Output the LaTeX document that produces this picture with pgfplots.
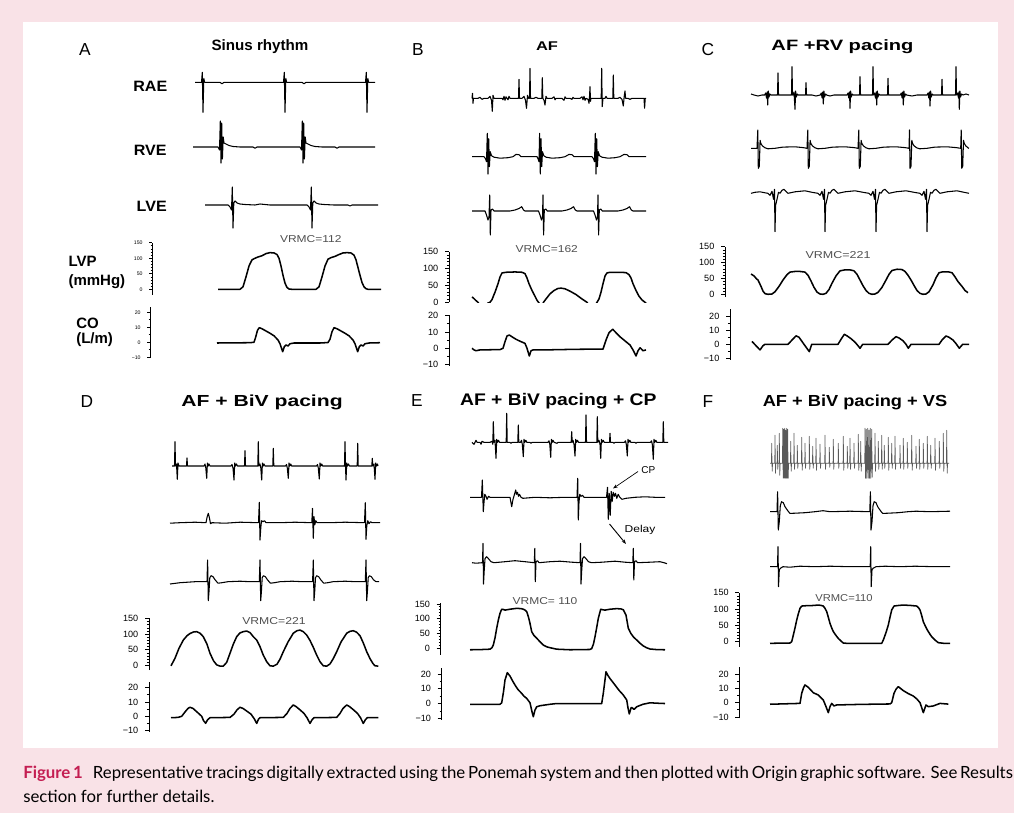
\documentclass[border=0pt]{standalone}
\usepackage{pgfplots}
\pgfplotsset{compat=1.18}
\usepackage{graphicx}
\usepackage{fontspec}
\setmainfont{Liberation Sans}
\newfontfamily\capfont{Lato}
\usetikzlibrary{arrows.meta}
\definecolor{bgpink}{RGB}{249,226,231}
\definecolor{figred}{RGB}{196,30,82}
\definecolor{vrgray}{RGB}{80,80,80}
\pgfplotsset{
  eg/.style={hide axis, x=0.75pt, y=0.75pt, ymin=-45, ymax=45, anchor=west, clip=false, at={(p)}},
  hemo/.style={x=0.75pt, axis x line=none, axis y line*=left, anchor=south west, clip=false, at={(p)},
     tick align=outside, major tick length=3pt, minor tick length=1.6pt,
     axis line style={line width=0.7pt,-}, every tick/.style={black, line width=0.55pt},
     yticklabel style={font=\fontsize{6.8pt}{7pt}\selectfont, xshift=-1.5pt},
     /pgf/number format/assume math mode=true},
  lvp/.style={hemo, ytick={0,50,100,150}, minor tick num=4},
  co/.style={hemo, ytick={-10,0,10,20}, yticklabels={−10,0,10,20}, minor tick num=1},
  tinyt/.style={yticklabel style={font=\fontsize{3.9pt}{4pt}\selectfont, xshift=0pt}, major tick length=2pt, minor tick length=1pt},
  hl/.style={black, line width=1.15pt, line join=round},
  el/.style={black, line width=0.8pt, line join=round},
}
\newcommand\ttl{\fontsize{12pt}{13pt}\selectfont\bfseries}
\newcommand\rl{\fontsize{11.25pt}{12pt}\selectfont\bfseries}
\newcommand\vr{\fontsize{7.5pt}{8pt}\selectfont\color{vrgray}}
\newcommand\pl{\fontsize{13pt}{13pt}\selectfont}
\begin{document}
\begin{tikzpicture}[x=0.75pt,y=-0.75pt]
\fill[bgpink] (0,0) rectangle (1014,813);
\fill[white] (22.5,22) rectangle (998,748);
% ---------- labels ----------
\node[anchor=base,inner sep=0] at (85,56) {\pl A};
\node[anchor=base,inner sep=0] at (418,56) {\pl B};
\node[anchor=base,inner sep=0] at (708,56) {\pl C};
\node[anchor=base,inner sep=0] at (87,407.3) {\pl D};
\node[anchor=base,inner sep=0] at (417,406.7) {\pl E};
\node[anchor=base,inner sep=0] at (708,407.3) {\pl F};
\node[anchor=base,inner sep=0] at (260,50.7) {\fontsize{11.25pt}{12pt}\selectfont\bfseries\scalebox{1.01}[1]{Sinus rhythm}};
\node[anchor=base,inner sep=0] at (547,50.7) {\fontsize{9.5pt}{10pt}\selectfont\bfseries\scalebox{1.3}[1]{AF}};
\node[anchor=base,inner sep=0] at (842.5,50.7) {\fontsize{11.25pt}{12pt}\selectfont\bfseries\scalebox{1.34}[1]{AF +RV pacing}};
\node[anchor=base,inner sep=0] at (262,406) {\ttl\scalebox{1.32}[1]{AF + BiV pacing}};
\node[anchor=base,inner sep=0] at (558.3,405.3) {\fontsize{12.6pt}{13pt}\selectfont\bfseries\scalebox{1.15}[1]{AF + BiV pacing + CP}};
\node[anchor=base,inner sep=0] at (855,406) {\ttl\scalebox{1.14}[1]{AF + BiV pacing + VS}};
\node[anchor=base,inner sep=0] at (150.3,91.7) {\rl\scalebox{1.07}[1]{RAE}};
\node[anchor=base,inner sep=0] at (150.3,156) {\rl\scalebox{1.07}[1]{RVE}};
\node[anchor=base,inner sep=0] at (151.7,211.7) {\rl\scalebox{1.07}[1]{LVE}};
\node[anchor=base west,inner sep=0] at (68.3,266) {\rl LVP};
\node[anchor=base west,inner sep=0] at (68.3,285) {\rl (mmHg)};
\node[anchor=base west,inner sep=0] at (76,328.3) {\rl CO};
\node[anchor=base west,inner sep=0] at (76,343) {\rl (L/m)};
\node[anchor=base,inner sep=0] at (310.8,242.7) {\vr\scalebox{1.2}[1]{VRMC=112}};
\node[anchor=base,inner sep=0] at (546.7,252.7) {\vr\scalebox{1.2}[1]{VRMC=162}};
\node[anchor=base,inner sep=0] at (838,258.3) {\vr\scalebox{1.25}[1]{VRMC=221}};
\node[anchor=base,inner sep=0] at (274,624) {\vr\scalebox{1.22}[1]{VRMC=221}};
\node[anchor=base,inner sep=0] at (545,604) {\vr\scalebox{1.2}[1]{VRMC= 110}};
\node[anchor=base,inner sep=0] at (844,601.7) {\vr\scalebox{1.12}[1]{VRMC=110}};
\node[anchor=base,inner sep=0] at (648.3,473.3) {\fontsize{7.5pt}{8pt}\selectfont CP};
\node[anchor=base,inner sep=0] at (640,532) {\fontsize{7.5pt}{8pt}\selectfont\scalebox{1.2}[1]{Delay}};
\draw[line width=0.5pt,-{Stealth[length=3.5pt,width=2.5pt]}] (638,471.5) -- (613,488.5);
\draw[line width=0.7pt,-{Stealth[length=3.5pt,width=2.5pt]}] (609.5,524) -- (626,544);
% caption
\node[anchor=base west,inner sep=0] at (23,778) {\capfont\fontsize{12.6pt}{14pt}\selectfont\makebox[739.5pt][s]{\textcolor{figred}{\bfseries Figure 1}\hspace{0.6em}Representative tracings digitally extracted using the Ponemah system and then plotted with Origin graphic software. See Results}};
\node[anchor=base west,inner sep=0] at (23,802) {\capfont\fontsize{12.6pt}{14pt}\selectfont section for further details.};
% ================= PANEL A =================
\coordinate (p) at (190,82.3);
\begin{axis}[eg, xmin=190, xmax=382]
\addplot[el] coordinates {(195,0)(201.5,0)(202.3,10)(203,-30)(203.8,4)(204.6,0)(220,0)(222,-1.5)(224,0)(283.5,0)(284.3,10)(285,-30)(285.8,4)(286.6,0)(302,0)(304,-1.5)(306,0)(365.5,0)(366.3,10)(367,-30)(367.8,4)(368.6,0)(375,0)};
\end{axis}
\coordinate (p) at (190,147);
\begin{axis}[eg, xmin=190, xmax=382]
\addplot[el] coordinates {(193,0)(218,0)(219.5,-3)(220.3,26)(221,-16)(221.7,24)(222.4,-12)(223.2,10)(224,4)(226,3)(229,1.5)(233,0.5)(240,0)(253,0)(255,-1.3)(257,0)(300,0)(301.5,-3)(302.3,26)(303,-16)(303.7,24)(304.4,-12)(305.2,10)(306,4)(308,3)(311,1.5)(315,0.5)(322,0)(335,0)(337,-1.3)(339,0)(375,0)};
\end{axis}
\coordinate (p) at (190,205);
\begin{axis}[eg, xmin=190, xmax=382]
\addplot[el] coordinates {(205,0)(228,0)(230,-2)(231.5,-5)(232.3,18)(233,-23)(233.8,2)(235,4)(237,2)(240,1)(245,0.5)(255,0)(260,1)(265,0.5)(270,0)(307,0)(309,-2)(310.5,-5)(311.3,18)(312,-23)(312.8,2)(314,4)(316,2)(319,1)(324,0.5)(334,0)(348,0)(350,-1)(352,0)(378,0)};
\end{axis}
\coordinate (p) at (152,294.9);
\begin{axis}[lvp, tinyt, y=0.2330pt, xmin=152, xmax=382, ymin=-18, ymax=150]
\addplot[hl] coordinates {(218,0)(240,0)(243,8)(246,40)(249,75)(252,95)(255,100)(258,104)(262,108)(266,115)(270,118)(274,117)(277,112)(279,100)(281,75)(283,45)(285,20)(287,6)(289,1)(292,0)(316,0)(319,8)(322,40)(325,75)(328,97)(331,102)(335,106)(339,112)(343,117)(347,118)(351,117)(354,110)(356,95)(358,70)(360,45)(362,22)(364,8)(366,2)(368,0)(381,0)};
\end{axis}
\coordinate (p) at (150,358);
\begin{axis}[co, tinyt, y=1.125pt, xmin=150, xmax=382, ymin=-10.5, ymax=23.5]
\addplot[hl] coordinates {(217,-0.5)(250,-0.3)(254,0)(255.5,3)(257.5,8)(259.3,9.7)(262,9)(266,7.5)(270,6)(274,4.3)(278,1.5)(280,-1)(282.7,-6.3)(284.3,-3)(286,-1.8)(288,-2.5)(290,-1)(294,-0.5)(320,-0.5)(328,-0.2)(330,2)(332,7)(334,9.7)(337,9)(341,7.5)(345,6)(349,4.3)(353,1.5)(355,-1)(357.7,-6.3)(359.3,-3)(361,-1.8)(363,-2.5)(365,-1)(369,-0.5)(380,-0.3)};
\end{axis}
% ================= PANEL B =================
\coordinate (p) at (470,98.3);
\begin{axis}[eg, xmin=470, xmax=648]
\addplot[el] coordinates {(472,0)(472.5,5)(473,-5)(473.5,0)(478,0)(480,1)(482,-1)(484,0)(488,0)(490,2)(491.5,-2)(492.3,-13)(493,3)(494,0)(499,0)(502,0)(503,-1.5)(504,2)(505,-2)(506,1.5)(507,0)(508,-1.5)(509,2)(510,0)(514,0)(518.5,0)(519,19)(519.5,0)(522,0)(524,2)(525.5,-2)(526.5,-10)(527.5,3)(528.5,0)(529.5,0)(530,30)(530.5,0)(534,0)(536,1)(538,0)(541.8,0)(542.3,20.6)(542.8,0)(544,-2)(545,-6.7)(546,2)(547,0)(552,0)(554,1.5)(555,-1.5)(556,0)(562,0)(564,-2)(565,1.5)(566,0)(570,0)(572,-1)(573,1)(574,0)(580,0)(582,1.5)(583,-1.5)(584,2)(585,-2)(586,0)(588,-1)(589,-5)(589.6,3)(590,11.6)(590.5,-3)(591,0)(600,0)(601.2,0)(601.7,30)(602.2,-8.4)(603,0)(605,0)(606,2)(607,0)(612.8,0)(613.3,23.3)(613.8,0)(618,0)(620,1)(622,-1)(623.3,-7.7)(624.2,2)(625,7.3)(625.6,0)(628,0)(630,-1)(632,0)(644,0)(644.6,-10)(645.2,0)(646,0)};
\end{axis}
\coordinate (p) at (470,156.7);
\begin{axis}[eg, xmin=470, xmax=648]
\addplot[el] coordinates {(472,0)(484,0)(485.5,-2)(486.5,-5)(487.3,23.4)(488,-17.3)(488.7,18)(489.4,-10)(490.2,5)(491.5,1)(494,-0.5)(500,-1.5)(508,-1)(513,0)(516,2.3)(519,2)(521,0)(537,0)(538,-2)(539,-5)(539.6,23.4)(540.3,-17.3)(541,18)(541.7,-10)(542.5,5)(543.8,1)(546,-0.5)(552,-1.5)(560,-1)(565,0)(569,2.3)(572,2)(574,0)(592,0)(593.5,-2)(594.5,-5)(595.3,23.4)(596,-17.3)(596.7,18)(597.4,-10)(598.2,5)(599.5,1)(602,-0.5)(608,-1.5)(615,-1)(620,0)(624,2.3)(627,2)(629,0)(646,0)};
\end{axis}
\coordinate (p) at (470,211);
\begin{axis}[eg, xmin=470, xmax=648]
\addplot[el] coordinates {(472,0)(485,0)(486.5,-4)(488,-9)(489,-6)(489.7,16)(490.3,-24)(491,1)(492.5,2)(494,0)(510,0)(515,1)(519,2.5)(521.7,4.3)(523.5,1)(525,0)(538.5,0)(540,-4)(541.5,-9)(542.5,-6)(543,16)(543.6,-24)(544.3,1)(545.8,2)(547.3,0)(562,0)(567,1)(571,2.5)(573.5,4.3)(575.3,1)(577,0)(593.5,0)(595,-4)(596.5,-9)(597.5,-6)(598,16)(598.6,-24)(599.3,1)(600.8,2)(602.3,0)(618,0)(623,1)(627,2.5)(629.5,4.3)(631.3,1)(633,0)(646,0)};
\end{axis}
\coordinate (p) at (449,302.3);
\begin{axis}[lvp, y=0.2530pt, xmin=449, xmax=648, ymin=0, ymax=150, clip=true]
\addplot[hl] coordinates {(472,16)(474,11)(476,5)(478,0)(480,-10)(486,-10)(488,-2)(490,0)(492,8)(495,30)(498,55)(500,75)(502,87)(506,89)(515,90)(522,89)(525,85)(527,72)(529,55)(532,35)(535,18)(537,6)(538.5,0)(541,-10)(542,-10)(543.5,0)(546,10)(550,25)(554,35)(558,41)(561,42)(565,40)(570,33)(576,23)(581,12)(585,4)(587,0)(589,-10)(595,-10)(597,0)(599,10)(601,30)(603,55)(605,78)(607,87)(610,89)(620,89)(626,88)(629,82)(631,72)(633,55)(636,35)(639,18)(642,7)(645,0)(646,-3)};
\end{axis}
\coordinate (p) at (449,365.5);
\begin{axis}[co, y=1.23pt, xmin=449, xmax=648, ymin=-10.5, ymax=20.5]
\addplot[hl] coordinates {(472,0)(474,-1)(476,-1.5)(480,-1)(500,-0.8)(503,0)(505,4)(507,7.5)(509.3,8.1)(512,7)(516,5.5)(520,4.3)(525,3)(527,0)(529.3,-4.7)(531,-1.5)(533,-1)(545,-1)(560,-0.8)(580,-0.6)(603,-0.5)(606,5)(609,9.5)(612.7,11.6)(616,9.5)(620,7)(625,4.5)(630,2)(633,-1)(636,-4.7)(638,-1.5)(640,0.3)(641.5,-0.5)(643,-1.5)(646,-1)};
\end{axis}
% ================= PANEL C =================
\coordinate (p) at (750,95);
\begin{axis}[eg, xmin=750, xmax=970]
\addplot[el] coordinates {(751,1)(754,0)(758,-1)(762,0)(764.7,0)(765.7,2)(766.5,-3)(767.2,3)(767.7,-10)(768.3,4)(769,-2)(769.9,1)(771,0)(777.5,0)(778,22)(778.5,0)(786,0)(791.5,0)(792,28.3)(792.5,0)(793,0)(794,3)(795,-14.3)(795.6,4)(796.3,-2)(797.2,1)(798,0)(805.5,0)(806,12.3)(806.5,0)(812,0)(816,-1)(820.3,0)(821.3,2)(822.1,-3)(822.8,3)(823.3,-9)(823.9,4)(824.6,-2)(825.5,1)(826.5,0)(830,-1)(834,0)(847,0)(848,2)(848.8,-3)(849.5,3)(850,-13.3)(850.6,4)(851.3,-2)(852.2,1)(853,0)(859.5,0)(860,18.3)(860.5,0)(872.5,0)(873,28.3)(873.5,0)(874.5,2)(875.5,-3)(876.2,3)(876.7,-10)(877.3,4)(878,-2)(878.9,1)(880,0)(887.5,0)(888,16.7)(888.5,0)(898,0)(900.3,0)(901.3,2)(902.1,-3)(902.8,3)(903.3,-10)(903.9,4)(904.6,-2)(905.5,1)(906.5,0)(912,-1)(917,0)(927,0)(928,2)(928.8,-3)(929.5,3)(930,-11)(930.6,4)(931.3,-2)(932.2,1)(933,0)(941.5,0)(942,15.7)(942.5,0)(955.5,0)(956,28.3)(956.5,0)(957.5,2)(958.5,-3)(959,3)(959.3,-14.3)(959.9,4)(960.6,-2)(961.5,1)(963,0)(966,1)(969,0)};
\end{axis}
\coordinate (p) at (750,148.3);
\begin{axis}[eg, xmin=750, xmax=970]
\addplot[el] coordinates {(751,0)(757,0)(757.8,18.3)(758.3,-20)(759.3,-18)(760.1,8)(760.8,5)(762.3,2.5)(765,0.5)(768,-0.5)(775,0)(783,1.2)(795,1.5)(803,0.7)(807,0)(807.8,18.3)(808.3,-20)(809.3,-18)(810.1,8)(810.8,5)(812.3,2.5)(815,0.5)(818,-0.5)(825,0)(833,1.2)(845,1.5)(854,0.7)(858,0)(858.8,18.3)(859.3,-20)(860.3,-18)(861.1,8)(861.8,5)(863.3,2.5)(866,0.5)(869,-0.5)(876,0)(884,1.2)(896,1.5)(905,0.7)(909,0)(909.5,18.3)(910,-20)(911,-18)(911.8,8)(912.5,5)(914,2.5)(916.7,0.5)(919.7,-0.5)(927,0)(935,1.2)(947,1.5)(956,0.7)(960.7,0)(961.2,18.3)(961.7,-20)(962.7,-18)(963.5,8)(964.2,5)(965.7,2.5)(968,0.5)(969,0)};
\end{axis}
\coordinate (p) at (750,193.3);
\begin{axis}[eg, xmin=750, xmax=970]
\addplot[el] coordinates {(751,0)(755,1)(760,1.5)(765,0.5)(768,0)(770,-2)(772,2)(773.5,-6)(774.5,4)(775,-38.4)(775.6,-12)(777,-6)(778.5,1)(780,0)(782,3)(784,4)(786,2)(788,0)(795,1.5)(805,2.5)(812,1)(818,0)(820,-2)(822,2)(823.5,-6)(824.5,4)(825,-38.4)(825.6,-12)(827,-6)(828.5,1)(830,0)(832,3)(834,4)(836,2)(838,0)(845,1.5)(855,2.5)(863,1)(869,0)(871,-2)(873,2)(874.5,-6)(875.5,4)(876,-38.4)(876.6,-12)(878,-6)(879.5,1)(881,0)(883,3)(885,4)(887,2)(889,0)(896,1.5)(906,2.5)(914,1)(920,0)(922,-2)(924,2)(925.5,-6)(926.5,4)(927,-38.4)(927.6,-12)(929,-6)(930.5,1)(932,0)(934,3)(936,4)(938,2)(940,0)(947,1.5)(957,2.5)(964,1)(969,0)};
\end{axis}
\coordinate (p) at (725,297);
\begin{axis}[lvp, y=0.2380pt, xmin=725, xmax=970, ymin=-8.5, ymax=150]
\addplot[hl] coordinates {(751,64)(754,58)(756.7,48)(758,45)(761,25)(763,10)(765,2)(768,0)(772,1)(775,8)(779,25)(783,45)(787,62)(790,70)(795,72)(800,72)(805,70)(808,60)(811,42)(814,22)(817,7)(820,1)(823,0)(826,3)(829,15)(832,35)(836,58)(840,74)(845,77)(850,77)(854,74)(857,63)(860,45)(863,27)(866,12)(869,3)(872,0)(875,1)(878,6)(882,22)(886,45)(889,63)(892,75)(897,79)(902,78)(905,72)(908,60)(911,45)(914,28)(917,12)(920,3)(923,0)(926,1)(929,8)(933,30)(936,52)(939,68)(943,71)(948,71)(952,68)(955,55)(958,40)(962,25)(965,12)(968,5)};
\end{axis}
\coordinate (p) at (730,359.8);
\begin{axis}[co, y=1.0575pt, xmin=730, xmax=970, ymin=-11, ymax=25]
\addplot[hl] coordinates {(752,2)(756,-1)(760,-4)(763,-1)(765,0)(788,0)(792,3)(796,6)(799,5)(803,1)(806,-2)(809.3,-5.2)(811.7,0)(838,0)(841,3.5)(844.3,7.1)(847,6)(851,4)(855,1.5)(858,-1)(860,-2.8)(862.7,0)(888,0)(892,3)(896,5.4)(899,4.5)(903,2.5)(906,0)(908.3,-2.8)(911,0)(939,0)(942,3)(946,5.9)(949,5)(953,3)(956,0.5)(959.3,-2.8)(962.7,0)(969,0)};
\end{axis}
% ================= PANEL D =================
\coordinate (p) at (168,466);
\begin{axis}[eg, xmin=168, xmax=382]
\addplot[el] coordinates {(172,0)(174.5,0)(175,24.3)(175.5,0)(176.5,2)(177.3,-13.3)(178,3)(179,0)(183,0)(186.5,0)(187,8)(187.5,0)(195,0)(204,0)(205,2)(205.8,-2)(206.7,-12.3)(207.4,3)(208.2,0)(209,2)(210,0)(220,0)(231,0)(232,1.5)(233,-2)(234,-14)(234.7,3)(235.5,0)(236.5,2)(237.5,0)(244.5,0)(245,15.3)(245.5,0)(257.8,0)(258.3,24.3)(258.8,0)(260,2)(260.8,-2)(261.7,-14)(262.4,3)(263.2,0)(264,2)(265,0)(272.8,0)(273.3,17.7)(273.8,0)(285.5,0)(286.5,1.5)(287.3,-2)(288.3,-12.3)(289,3)(289.8,0)(290.7,2)(291.7,0)(300,0)(316.5,0)(317.5,1.5)(318.3,-2)(319.3,-13)(320,3)(320.8,0)(321.7,2)(322.7,0)(330,0)(344.5,0)(345,24.3)(345.5,0)(346,-14)(346.7,3)(347.5,0)(348.5,2)(349.5,0)(357.2,0)(357.7,22.7)(358.2,0)(360,0)(371.8,0)(372.3,7.7)(372.8,0)(374,2)(375,-13.3)(375.7,3)(376.5,0)(377.5,2)(378,0)};
\end{axis}
\coordinate (p) at (168,522.7);
\begin{axis}[eg, xmin=168, xmax=382]
\addplot[el] coordinates {(170,-0.5)(180,0)(195,0.5)(206,0)(207.2,6)(208.3,9.4)(209.4,5)(210.5,-1)(212,0)(225,-0.5)(240,0.5)(258.5,0)(259.3,20.4)(260,-17.3)(260.8,-5)(261.5,2)(263,1)(264.5,2)(266,0)(280,0)(295,0.5)(311.8,0)(312.5,14.4)(313.3,-15.6)(314,6)(314.8,-2)(315.8,2)(317,0)(330,0)(345,0.5)(364.5,0)(365.3,20)(366,-16.6)(366.8,-3)(367.8,2)(369,-1)(370.5,1)(372,0)(380,0)};
\end{axis}
\coordinate (p) at (168,581.7);
\begin{axis}[eg, xmin=168, xmax=382]
\addplot[el] coordinates {(170,-2.3)(180,-1)(195,0)(207,0)(207.6,21.7)(208.3,-19)(209,-10)(209.8,4)(211,6)(213,5)(215,2)(218,-1.5)(222,-1)(228,0)(240,0.5)(250,0)(259.3,0)(260,21.7)(260.7,-19)(261.4,-10)(262.2,4)(263.4,6)(265.4,5)(267.4,2)(270.4,-1.5)(274.4,-1)(280,0)(292,0.5)(303,0)(312.6,0)(313.3,21.7)(314,-19)(314.7,-10)(315.5,4)(316.7,6)(318.7,5)(320.7,2)(323.7,-1.5)(327.7,-1)(333,0)(345,0.5)(356,0)(365.3,0)(366,21.7)(366.7,-19)(367.4,-10)(368.2,4)(369.4,6)(371.4,5)(373.4,2)(376,0)(379,0)};
\end{axis}
\coordinate (p) at (149,670);
\begin{axis}[lvp, y=0.2350pt, xmin=149, xmax=382, ymin=-14.4, ymax=150]
\addplot[hl] coordinates {(171,-1)(175,23)(179,55)(183.3,81)(187,95)(190,102)(193.5,107)(196.7,108)(200,103)(203.3,92)(207,68)(210,39)(213.5,15)(216.7,2)(220,-2)(223.3,-2)(226.7,10)(230,39)(233.3,68)(236.7,92)(240,104)(243.3,108)(246.7,110)(250,105)(253.3,92)(256.7,81)(260,60)(263.3,33)(266.7,12)(270,-1)(273.3,-2)(277,4)(280,20)(283.3,44)(288,75)(293.3,103)(297,111)(300,113)(303.3,108)(306.7,97)(310,80)(313.3,58)(316.7,33)(320,12)(323.3,-1)(326.7,-2)(330,5)(333.3,22)(336.7,44)(341,75)(346.7,103)(350,109)(353.3,111)(356.7,106)(360,95)(363.3,72)(366.7,44)(370,22)(373,6)(375,-1)(378.3,-2)};
\end{axis}
\coordinate (p) at (149,732);
\begin{axis}[co, y=1.0725pt, xmin=149, xmax=382, ymin=-11, ymax=24]
\addplot[hl] coordinates {(171,-1)(178,-0.8)(181.7,0)(185,3)(188,5.5)(190,6.3)(193,5.5)(197,3)(201.7,0)(203.5,-3)(205.7,-4.9)(207.5,-2.5)(210,-1)(230,-0.8)(234,1.5)(237,4.5)(240,6.3)(243,5.5)(247,3.5)(251,1.5)(254.5,-2)(256.7,-5)(258.5,-2)(260,-1)(283.3,-0.8)(287,2)(290,5.5)(293.3,7.9)(296,6.8)(300,4.5)(304,2)(307,-1)(310,-5)(312,-2.5)(314,-1)(336.7,-0.8)(340,2)(343,5.5)(346.7,7.9)(349.5,6.8)(353.5,4.5)(357.5,2)(360.5,-1)(363.3,-5)(365.3,-2.5)(367.3,-1)(378.3,-1)};
\end{axis}
% ================= PANEL E =================
\coordinate (p) at (470,442.3);
\begin{axis}[eg, xmin=470, xmax=668]
\addplot[el] coordinates {(472,0)(474,-2)(476,2)(477,0)(480,0)(481,-2)(482,1)(484,0)(490,0)(492,1)(492.8,-2)(493.3,20.6)(494,0)(495,2)(496,-16)(496.7,3)(497.5,0)(498.5,2)(499.5,0)(506.2,0)(506.7,29)(507.2,0)(510,0)(511,-1)(512,0)(517.8,0)(518.3,17.3)(518.8,0)(520.5,0)(521.5,2)(522.3,-2)(523.3,-14.4)(524,3)(524.8,0)(525.8,2)(526.8,0)(530,0)(531,-1)(532,0)(548,0)(549,1.5)(549.8,-2)(550.7,-15)(551.4,3)(552.2,0)(553,2)(554,0)(557,-1)(558,0)(571.2,0)(571.7,10.6)(572.2,0)(573,2)(574,-2)(575,-13.7)(575.7,3)(576.5,0)(577.5,2)(578.5,0)(585.5,0)(586,27.3)(586.5,0)(596.8,0)(597.3,25.6)(597.8,0)(599,2)(600,-2)(600.7,-16)(601.4,3)(602.2,0)(603.2,2)(604.2,0)(609.5,0)(610,9)(610.5,0)(613,0)(614,-1)(615,0)(624.5,0)(625.5,1.5)(626.3,-2)(627.3,-13.7)(628,3)(628.8,0)(629.8,2)(630.8,0)(635,0)(636,-1)(637,0)(650.5,0)(651.5,1.5)(652.3,-2)(653.3,-17)(654,3)(654.8,0)(655.8,2)(656.8,0)(662.8,0)(663.3,20.6)(663.8,0)(666,0)(668,0)};
\end{axis}
\coordinate (p) at (470,497.3);
\begin{axis}[eg, xmin=470, xmax=668]
\addplot[el] coordinates {(470,0)(481.5,0)(482.3,17.3)(483.3,-14.4)(484,-5)(484.8,3)(486,1)(487,-2)(488.5,1)(490,0)(505,0)(510,0)(511.7,-9.4)(513,-2)(514.5,3)(515.7,7.3)(516.5,3)(517.5,5)(518.5,1)(519.5,3)(521,0)(523,-1)(535,0)(550,-0.5)(565,0)(577,0)(577.7,19)(578.3,-22.7)(579,-5)(579.8,3)(581,1)(582.5,2)(584,0)(595,0)(606.5,0)(607.5,10)(608.3,-22)(609.2,4)(610.2,-18)(611.2,6)(612.2,-4)(613.2,5)(614.5,1)(615.5,4)(616.8,-1)(618.2,3)(619.8,0)(622,-2)(626,-1)(635,0)(645,0.5)(655,0)(665,0)};
\end{axis}
\coordinate (p) at (470,562.7);
\begin{axis}[eg, xmin=470, xmax=668]
\addplot[el] coordinates {(472,0)(476,-0.5)(482.5,0)(483,19.4)(483.5,-21.3)(484.2,-8)(485,4)(486.5,6)(488.5,4)(491,1)(494,0)(505,1)(515,2)(525,1)(534.3,0)(534.8,14.4)(535.3,-19)(536,1)(537.5,2)(539,0)(550,1)(560,1.5)(572,0.5)(580,0)(580.5,19.4)(581,-21.3)(581.7,-8)(582.5,4)(584,6)(586,4)(588.5,1)(591.5,0)(602,0.5)(615,1.5)(625,0.5)(632.8,0)(633.3,14.4)(633.8,-17.3)(634.5,1)(636,2)(637.5,0)(650,0.5)(660,1)(664,0)(667,-1)};
\end{axis}
\coordinate (p) at (440.7,654.8);
\begin{axis}[lvp, y=0.2220pt, xmin=440.7, xmax=668, ymin=-22, ymax=152]
\addplot[hl] coordinates {(470,-5)(480,-4.5)(490,-3)(492,2)(493.3,11)(495,35)(496.7,68)(498.3,95)(500,118)(501.7,132)(503.5,131)(505,129)(510,132)(516.7,135)(521,134)(523.3,132)(525,129)(526.7,124)(528.5,105)(530,84)(531.7,56)(534,43)(536.7,34)(540,22)(543.3,11)(546.7,5)(550,2)(556.7,-3)(570,-5)(590,-4)(591.7,-1)(593.5,15)(595,39)(596.7,70)(598.3,101)(600.7,132)(603,130)(605,129)(610,132)(616.7,134)(621,133)(623.3,130)(626,112)(628.3,68)(630.7,51)(633.5,38)(636.7,28)(640,17)(643.3,8)(646.5,2)(650,-2.4)(657,-4.5)(665,-5)};
\end{axis}
\coordinate (p) at (441.7,719.7);
\begin{axis}[co, y=1.1025pt, xmin=441.7, xmax=668, ymin=-11, ymax=24.5]
\addplot[hl] coordinates {(470,-0.5)(500,-0.5)(501.7,0.5)(503.5,8)(505,16)(507.3,21)(510,18.7)(512.5,15.5)(515,12.6)(518,9.5)(521.7,6.9)(524,5)(526.7,3.5)(530,0.5)(531.8,-5)(533.3,-9)(535,-4.4)(536.7,-2.2)(540,-1.5)(550,-0.5)(556.7,0)(601.7,0)(603.3,7)(604.8,15)(606,21.6)(608,19)(610,17)(615,12.6)(619,9)(623.3,5.8)(626.7,2.4)(628,-3)(629.3,-7.1)(631,-3)(631.7,-2.6)(634,-4)(636.7,-2.2)(643,-0.5)(650,0.5)(658,0.2)(665,0)};
\end{axis}
% ================= PANEL F =================
\coordinate (p) at (768,463.3);
\begin{axis}[eg, xmin=768, xmax=952]
\addplot[black!65, line width=0.5pt, line join=round] coordinates {(770,0)(771.45,0)(771.7,20)(772.15,-8)(772.6,0)(774.75,0)(775,28)(775.45,-10)(775.9,0)(777.05,0)(777.3,18)(777.75,-6)(778.2,0)(779.05,0)(779.3,30)(779.75,-12)(780.2,0)(782.45,0)(782.7,35)(783.15,-15)(783.5,0)(783.7,34)(784.15,-15)(784.5,0)(784.7,35)(785.15,-15)(785.5,0)(785.7,33)(786.15,-15)(786.5,0)(786.7,35)(787.15,-15)(787.5,0)(787.7,34)(788.15,-15)(788.6,0)(790.45,0)(790.7,22)(791.15,-8)(791.6,0)(793.75,0)(794,30)(794.45,-6)(794.9,0)(797.05,0)(797.3,18)(797.75,-5)(798.2,0)(801.45,0)(801.7,26)(802.15,-7)(802.6,0)(804.75,0)(805,20)(805.45,-5)(805.9,0)(809.05,0)(809.3,27)(809.75,-6)(810.2,0)(812.45,0)(812.7,17)(813.15,-5)(813.6,0)(815.75,0)(816,25)(816.45,-7)(816.9,0)(819.75,0)(820,19)(820.45,-5)(820.9,0)(824.75,0)(825,28)(825.45,-6)(825.9,0)(829.05,0)(829.3,16)(829.75,-4)(830.2,0)(833.05,0)(833.3,24)(833.75,-6)(834.2,0)(838.05,0)(838.3,20)(838.75,-5)(839.2,0)(843.05,0)(843.3,27)(843.75,-7)(844.2,0)(847.05,0)(847.3,17)(847.75,-5)(848.2,0)(849.75,0)(850,25)(850.45,-6)(850.9,0)(853.75,0)(854,20)(854.45,-5)(854.9,0)(858.05,0)(858.3,29)(858.75,-7)(859.2,0)(860.45,0)(860.7,22)(861.15,-8)(861.6,0)(864.75,0)(865,35)(865.45,-15)(865.9,0)(866.3,34)(866.75,-15)(867.2,0)(867.7,35)(868.15,-15)(868.6,0)(869,33)(869.45,-15)(869.9,0)(870.3,35)(870.75,-15)(871.2,0)(871.7,34)(872.15,-14)(872.6,0)(874.75,0)(875,30)(875.45,-8)(875.9,0)(878.05,0)(878.3,22)(878.75,-6)(879.2,0)(881.45,0)(881.7,28)(882.15,-6)(882.6,0)(884.05,0)(884.3,18)(884.75,-5)(885.2,0)(888.05,0)(888.3,26)(888.75,-7)(889.2,0)(891.45,0)(891.7,20)(892.15,-5)(892.6,0)(894.75,0)(895,27)(895.45,-6)(895.9,0)(899.75,0)(900,18)(900.45,-5)(900.9,0)(903.05,0)(903.3,25)(903.75,-6)(904.2,0)(907.05,0)(907.3,21)(907.75,-5)(908.2,0)(911.45,0)(911.7,28)(912.15,-7)(912.6,0)(915.75,0)(916,17)(916.45,-5)(916.9,0)(919.05,0)(919.3,24)(919.75,-6)(920.2,0)(923.05,0)(923.3,20)(923.75,-5)(924.2,0)(927.05,0)(927.3,27)(927.75,-6)(928.2,0)(930.45,0)(930.7,18)(931.15,-5)(931.6,0)(934.75,0)(935,25)(935.45,-7)(935.9,0)(939.05,0)(939.3,22)(939.75,-5)(940.2,0)(943.05,0)(943.3,30)(943.75,-8)(944.2,0)(946.45,0)(946.7,33)(947.15,-10)(947.6,0)(949,0)};
\end{axis}
\coordinate (p) at (768,511.7);
\begin{axis}[eg, xmin=768, xmax=952]
\addplot[el] coordinates {(770,0)(777,0)(777.6,20)(778.3,-18.3)(779.3,-10)(780.3,6)(781.5,10)(783.3,9)(785,5)(786.7,2.5)(788.5,0)(790,-1.7)(795,-1.5)(805,-1)(815,0)(823,1)(830,0)(850,0.5)(869.8,0)(870.4,20)(871,-18.3)(872,-10)(873,6)(874.2,10)(876,9)(877.7,5)(879.4,2.5)(881.2,0)(882.7,-1.7)(888,-1.5)(898,-1)(908,0)(916,0.5)(930,0)(950,0.5)};
\end{axis}
\coordinate (p) at (768,566.7);
\begin{axis}[eg, xmin=768, xmax=952]
\addplot[el] coordinates {(770,0)(777.5,0)(778,20)(778.5,-20)(779.3,-3)(780.5,-1.5)(783,0)(790,-0.5)(800,0.5)(815,0)(830,0.5)(850,0)(870.2,0)(870.7,20)(871.2,-20)(872,-3)(873.2,-1.5)(876,0)(885,0.5)(900,0)(915,0.5)(935,0)(950,0)};
\end{axis}
\coordinate (p) at (739.3,646.6);
\begin{axis}[lvp, y=0.2453pt, xmin=739.3, xmax=952, ymin=-15, ymax=150]
\addplot[hl] coordinates {(770,-5)(790,-4)(791.7,0)(793.3,20)(795,42)(796.7,66)(798.3,85)(800,102)(801.7,109)(806,110)(810,110)(814,111)(818.3,112)(821,111)(823.3,109)(825,102)(826.7,92)(828.3,75)(830,56)(831.7,42)(833.3,31)(836,19)(838.3,10)(841,2)(843.3,-4)(846.7,-5)(881.7,-5)(883.3,5)(886,28)(888.3,51)(890,75)(891.7,97)(894,109)(899,111)(903.3,112)(910,111)(916.7,109)(918.5,104)(920,97)(921.7,80)(923.3,61)(925.3,48)(927.3,36)(929.5,25)(931.7,15)(935,5)(938.3,-3)(944,-5)(950,-5)};
\end{axis}
\coordinate (p) at (739.3,718.3);
\begin{axis}[co, y=1.065pt, xmin=739.3, xmax=952, ymin=-11, ymax=25]
\addplot[hl] coordinates {(770,-1.1)(800,-0.5)(801.7,6.6)(803.5,10.5)(805,12.5)(808.3,10.8)(813.3,7)(818.3,5.4)(823.3,1.9)(826,-2.8)(828.3,-7)(830,-2.8)(831.7,-0.5)(834,-2.3)(836.7,-1.6)(860,-1.2)(890,-0.9)(891.7,0)(894,6.6)(896,9.5)(898.3,11.3)(903.3,8.5)(908,6.5)(913.3,4.7)(917,2.5)(920,0)(921.7,-3.5)(923.3,-7)(926,-1.6)(928.3,-2.8)(933.3,-2.3)(940,-0.5)(948.3,-1)};
\end{axis}
\end{tikzpicture}
\end{document}
